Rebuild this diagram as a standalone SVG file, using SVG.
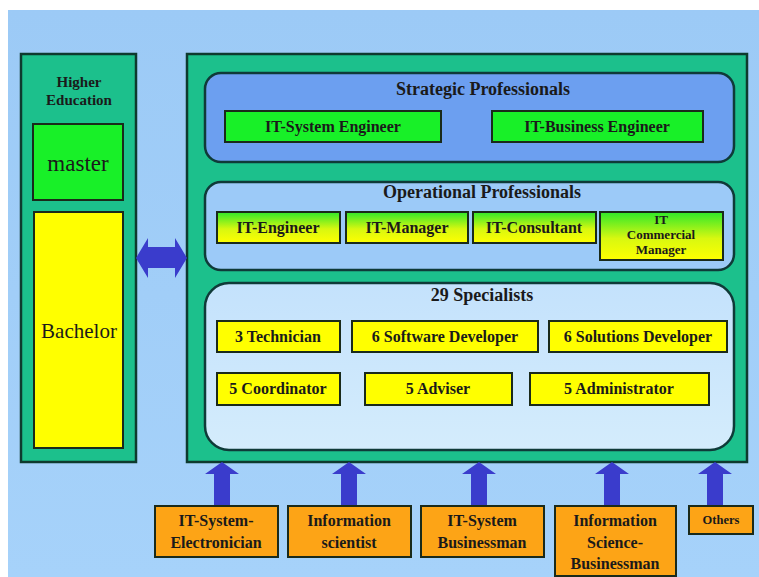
<svg xmlns="http://www.w3.org/2000/svg" width="759" height="577" viewBox="0 0 759 577">
  <defs>
    <linearGradient id="gy" x1="0" y1="0" x2="0" y2="1">
      <stop offset="0" stop-color="#2ee82a"/>
      <stop offset="0.55" stop-color="#d8f810"/>
      <stop offset="1" stop-color="#ffff00"/>
    </linearGradient>
    <linearGradient id="bg" x1="0" y1="0" x2="0" y2="1">
      <stop offset="0" stop-color="#9ccaf6"/>
      <stop offset="1" stop-color="#a6d2fa"/>
    </linearGradient>
    <linearGradient id="spec" x1="0" y1="0" x2="0" y2="1">
      <stop offset="0" stop-color="#c4e2fc"/>
      <stop offset="1" stop-color="#d4ecfc"/>
    </linearGradient>
    <g id="up">
      <path d="M-8,43 L-8,12 L-17,12 L0,0 L17,12 L8,12 L8,43 Z"/>
    </g>
  </defs>
  <style>
    .panel { fill: #1cc08c; stroke: #0e3a2e; stroke-width: 2.5; }
    .box { stroke: #1a2a1a; stroke-width: 2; }
    .green { fill: #18f028; }
    .grad { fill: url(#gy); }
    .yellow { fill: #ffff00; }
    .orange { fill: #fda416; }
    .band { stroke: #0f3a38; stroke-width: 2.5; }
    .arrow { fill: #3a3ccc; }
    text { font-family: "Liberation Serif", "Times New Roman", serif; fill: #1a1a1a; text-anchor: middle; }
    .b { font-weight: bold; font-size: 16px; }
    .h { font-weight: bold; font-size: 18px; }
    .b.s15 { font-size: 15px; }
    .b.s13 { font-size: 13px; }
    .b.s12 { font-size: 12.5px; }
  </style>

  <rect x="0" y="0" width="759" height="577" fill="#ffffff"/>
  <rect x="8" y="10" width="751" height="567" fill="url(#bg)"/>

  <!-- higher education column -->
  <g id="higher-education">
    <rect class="panel" x="21" y="54" width="115" height="408"/>
    <text class="b s15" x="79" y="87">Higher</text>
    <text class="b s15" x="79" y="105">Education</text>
  </g>
  <g id="master">
    <rect class="box green" x="33" y="124" width="90" height="76"/>
    <text x="78" y="171" font-size="23" fill="#2a3a2a">master</text>
  </g>
  <g id="bachelor">
    <rect class="box yellow" x="34" y="212" width="89" height="236"/>
    <text x="79" y="338" font-size="21" fill="#2a3a2a">Bachelor</text>
  </g>

  <!-- professions column -->
  <g id="professions">
    <rect class="panel" x="187" y="54" width="560" height="408"/>
  </g>

  <g id="strategic">
    <rect class="band" x="205" y="73" width="529" height="89" rx="16" fill="#6c9ff0"/>
    <text class="h" x="483" y="95">Strategic Professionals</text>
  </g>
  <g id="it-system-engineer">
    <rect class="box green" x="225" y="111" width="216" height="31"/>
    <text class="b" x="333" y="132">IT-System Engineer</text>
  </g>
  <g id="it-business-engineer">
    <rect class="box green" x="492" y="111" width="211" height="31"/>
    <text class="b" x="597" y="132">IT-Business Engineer</text>
  </g>

  <g id="operational">
    <rect class="band" x="205" y="182" width="529" height="88" rx="16" fill="#9ccaf8"/>
    <text class="h" x="482" y="198">Operational Professionals</text>
  </g>
  <g id="it-engineer">
    <rect class="box grad" x="217" y="212" width="123" height="31"/>
    <text class="b" x="278" y="233">IT-Engineer</text>
  </g>
  <g id="it-manager">
    <rect class="box grad" x="346" y="212" width="122" height="31"/>
    <text class="b" x="407" y="233">IT-Manager</text>
  </g>
  <g id="it-consultant">
    <rect class="box grad" x="473" y="212" width="123" height="31"/>
    <text class="b" x="534" y="233">IT-Consultant</text>
  </g>
  <g id="it-commercial-manager">
    <rect class="box grad" x="600" y="212" width="123" height="48"/>
    <text class="b s13" x="661" y="224">IT</text>
    <text class="b s13" x="661" y="239">Commercial</text>
    <text class="b s13" x="661" y="254">Manager</text>
  </g>

  <g id="specialists">
    <rect class="band" x="205" y="283" width="529" height="167" rx="24" fill="url(#spec)"/>
    <text class="h" x="482" y="301">29 Specialists</text>
  </g>
  <g id="technician">
    <rect class="box yellow" x="217" y="321" width="123" height="31"/>
    <text class="b" x="278" y="342">3 Technician</text>
  </g>
  <g id="software-developer">
    <rect class="box yellow" x="352" y="321" width="186" height="31"/>
    <text class="b" x="445" y="342">6 Software Developer</text>
  </g>
  <g id="solutions-developer">
    <rect class="box yellow" x="549" y="321" width="178" height="31"/>
    <text class="b" x="638" y="342">6 Solutions Developer</text>
  </g>
  <g id="coordinator">
    <rect class="box yellow" x="217" y="373" width="123" height="32"/>
    <text class="b" x="278" y="394">5 Coordinator</text>
  </g>
  <g id="adviser">
    <rect class="box yellow" x="365" y="373" width="147" height="32"/>
    <text class="b" x="438" y="394">5 Adviser</text>
  </g>
  <g id="administrator">
    <rect class="box yellow" x="530" y="373" width="179" height="32"/>
    <text class="b" x="619" y="394">5 Administrator</text>
  </g>

  <!-- sources of entry -->
  <g id="it-system-electronician">
    <rect class="box orange" x="155" y="506" width="123" height="51"/>
    <text class="b" x="216" y="526">IT-System-</text>
    <text class="b" x="216" y="548">Electronician</text>
  </g>
  <g id="information-scientist">
    <rect class="box orange" x="288" y="506" width="123" height="51"/>
    <text class="b" x="349" y="526">Information</text>
    <text class="b" x="349" y="548">scientist</text>
  </g>
  <g id="it-system-businessman">
    <rect class="box orange" x="421" y="506" width="123" height="51"/>
    <text class="b" x="482" y="526">IT-System</text>
    <text class="b" x="482" y="548">Businessman</text>
  </g>
  <g id="information-science-businessman">
    <rect class="box orange" x="555" y="506" width="121" height="70"/>
    <text class="b" x="615" y="526">Information</text>
    <text class="b" x="615" y="548">Science-</text>
    <text class="b" x="615" y="569">Businessman</text>
  </g>
  <g id="others">
    <rect class="box orange" x="689" y="506" width="64" height="28"/>
    <text class="b s12" x="721" y="524">Others</text>
  </g>

  <!-- connectors -->
  <g id="connectors" class="arrow">
    <path d="M136,258 L148,238 L148,247 L175,247 L175,238 L187,258 L175,278 L175,268 L148,268 L148,278 Z"/>
    <use href="#up" x="222" y="462"/>
    <use href="#up" x="349" y="462"/>
    <use href="#up" x="479" y="462"/>
    <use href="#up" x="612" y="462"/>
    <use href="#up" x="715" y="462"/>
  </g>
</svg>
